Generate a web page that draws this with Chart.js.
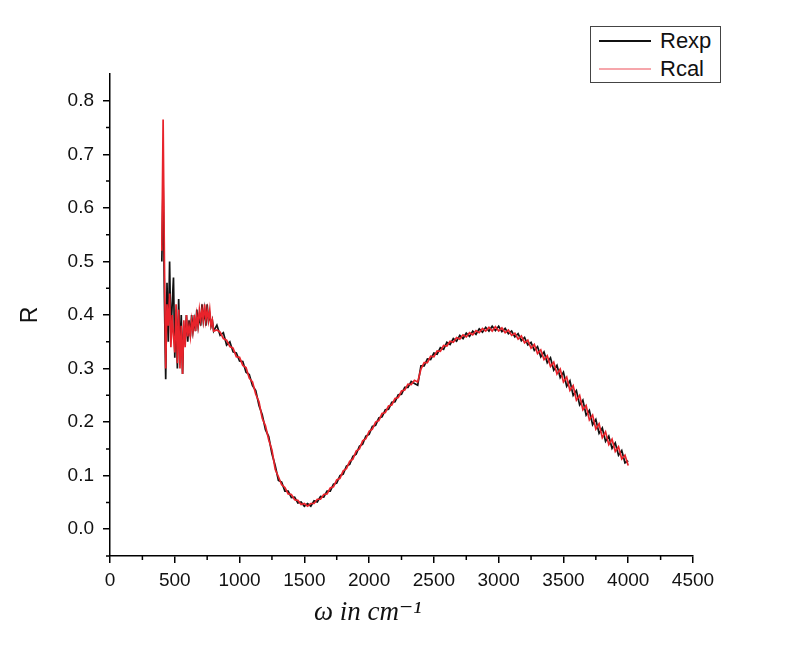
<!DOCTYPE html>
<html lang="en">
<head>
    <meta charset="UTF-8">
    <title>R vs wavenumber</title>
    <script src="https://cdn.jsdelivr.net/npm/chart.js"></script>
    <style>
        body { margin: 0; background: #fff; }
        #box { position: relative; width: 810px; height: 669px; }
        #legenda {
            position: absolute; left: 590px; top: 26px; width: 129px; height: 55px;
            border: 1px solid #444; background: #fff;
            font-family: 'Liberation Sans', Arial, sans-serif; font-size: 22px; color: #111;
        }
        .item { position: absolute; left: 8px; height: 26px; display: flex; align-items: center; }
        .item span.linha { display: inline-block; width: 52px; height: 2px; margin-right: 9px; }
    </style>
</head>
<body>
<div id="box">
    <canvas id="grafico" width="810" height="669"></canvas>
    <div id="legenda">
        <div class="item" style="top: 1px;"><span class="linha" style="background:#111;"></span>Rexp</div>
        <div class="item" style="top: 29px;"><span class="linha" style="background:#f6a6ab;"></span>Rcal</div>
    </div>
</div>
<script>
    // wavenumber (cm-1): 400-800 every 10, then 825-4000 every 25
    var omega = [
        400, 410, 420, 430, 440, 450, 460, 470, 480, 490, 500, 510, 520, 530, 540, 550, 560, 570, 580, 590,
        600, 610, 620, 630, 640, 650, 660, 670, 680, 690, 700, 710, 720, 730, 740, 750, 760, 770, 780, 790, 800,
        825, 850, 875, 900, 925, 950, 975, 1000, 1025, 1050, 1075, 1100, 1125, 1150, 1175, 1200,
        1225, 1250, 1275, 1300, 1325, 1350, 1375, 1400, 1425, 1450, 1475, 1500, 1525, 1550, 1575, 1600,
        1625, 1650, 1675, 1700, 1725, 1750, 1775, 1800, 1825, 1850, 1875, 1900, 1925, 1950, 1975, 2000,
        2025, 2050, 2075, 2100, 2125, 2150, 2175, 2200, 2225, 2250, 2275, 2300, 2325, 2350, 2375, 2400,
        2425, 2450, 2475, 2500, 2525, 2550, 2575, 2600, 2625, 2650, 2675, 2700, 2725, 2750, 2775, 2800,
        2825, 2850, 2875, 2900, 2925, 2950, 2975, 3000, 3025, 3050, 3075, 3100, 3125, 3150, 3175, 3200,
        3225, 3250, 3275, 3300, 3325, 3350, 3375, 3400, 3425, 3450, 3475, 3500, 3525, 3550, 3575, 3600,
        3625, 3650, 3675, 3700, 3725, 3750, 3775, 3800, 3825, 3850, 3875, 3900, 3925, 3950, 3975, 4000
    ];

    var rExp = [
        0.50, 0.65, 0.43, 0.28, 0.46, 0.35, 0.50, 0.36, 0.42, 0.47, 0.32, 0.41, 0.30, 0.43, 0.33, 0.40, 0.29, 0.38, 0.35, 0.40,
        0.35, 0.39, 0.36, 0.40, 0.37, 0.39, 0.37, 0.41, 0.38, 0.40, 0.38, 0.42, 0.39, 0.41, 0.38, 0.42, 0.39, 0.40, 0.38, 0.39, 0.37,
        0.381, 0.362, 0.367, 0.344, 0.350, 0.331, 0.329, 0.314, 0.313, 0.293, 0.289, 0.268, 0.259, 0.231, 0.214, 0.186,
        0.173, 0.141, 0.119, 0.091, 0.088, 0.071, 0.071, 0.059, 0.060, 0.049, 0.051, 0.043, 0.048, 0.043, 0.053, 0.051,
        0.061, 0.060, 0.071, 0.071, 0.084, 0.086, 0.100, 0.103, 0.118, 0.121, 0.136, 0.140, 0.155, 0.159, 0.174, 0.177,
        0.192, 0.194, 0.208, 0.210, 0.223, 0.224, 0.237, 0.238, 0.251, 0.252, 0.265, 0.265, 0.276, 0.272, 0.269, 0.305,
        0.305, 0.318, 0.317, 0.329, 0.327, 0.339, 0.336, 0.349, 0.345, 0.356, 0.351, 0.362, 0.356, 0.366, 0.360, 0.370,
        0.364, 0.374, 0.368, 0.377, 0.370, 0.379, 0.371, 0.379, 0.369, 0.375, 0.365, 0.370, 0.359, 0.365, 0.352, 0.358,
        0.344, 0.349, 0.334, 0.341, 0.322, 0.331, 0.311, 0.320, 0.297, 0.306, 0.283, 0.293, 0.267, 0.277, 0.250, 0.259,
        0.232, 0.241, 0.213, 0.222, 0.195, 0.205, 0.179, 0.189, 0.164, 0.174, 0.151, 0.161, 0.138, 0.147, 0.124, 0.128
    ];

    var rCal = [
        0.52, 0.765, 0.50, 0.30, 0.42, 0.38, 0.44, 0.34, 0.40, 0.36, 0.33, 0.42, 0.31, 0.41, 0.30, 0.38, 0.29, 0.39, 0.34, 0.40,
        0.36, 0.38, 0.36, 0.39, 0.37, 0.40, 0.37, 0.40, 0.38, 0.41, 0.39, 0.41, 0.39, 0.42, 0.39, 0.41, 0.39, 0.41, 0.38, 0.39, 0.37,
        0.372, 0.368, 0.356, 0.353, 0.341, 0.338, 0.322, 0.321, 0.306, 0.302, 0.282, 0.275, 0.252, 0.238, 0.207, 0.193,
        0.167, 0.148, 0.112, 0.098, 0.083, 0.078, 0.066, 0.065, 0.055, 0.054, 0.046, 0.048, 0.043, 0.048, 0.048, 0.056,
        0.056, 0.065, 0.066, 0.077, 0.079, 0.092, 0.095, 0.109, 0.113, 0.127, 0.131, 0.146, 0.150, 0.165, 0.169, 0.183,
        0.187, 0.200, 0.203, 0.216, 0.218, 0.230, 0.232, 0.244, 0.246, 0.258, 0.260, 0.271, 0.270, 0.278, 0.275, 0.299,
        0.311, 0.311, 0.323, 0.322, 0.333, 0.332, 0.343, 0.342, 0.351, 0.349, 0.358, 0.355, 0.363, 0.359, 0.367, 0.363,
        0.371, 0.367, 0.375, 0.370, 0.377, 0.370, 0.378, 0.370, 0.376, 0.367, 0.372, 0.362, 0.366, 0.355, 0.361, 0.348,
        0.353, 0.338, 0.345, 0.328, 0.335, 0.317, 0.324, 0.304, 0.312, 0.290, 0.299, 0.275, 0.284, 0.259, 0.268, 0.241,
        0.250, 0.223, 0.231, 0.204, 0.213, 0.187, 0.197, 0.171, 0.182, 0.158, 0.168, 0.145, 0.154, 0.131, 0.138, 0.119
    ];

    var xTicks = [0, 500, 1000, 1500, 2000, 2500, 3000, 3500, 4000, 4500];
    var yTicks = [0.0, 0.1, 0.2, 0.3, 0.4, 0.5, 0.6, 0.7, 0.8];
    var xMinor = [250, 750, 1250, 1750, 2250, 2750, 3250, 3750, 4250];
    var yMinor = [-0.05, 0.05, 0.15, 0.25, 0.35, 0.45, 0.55, 0.65, 0.75];

    function pontos(ys) {
        return omega.map((x, i) => ({ x: x, y: ys[i] }));
    }

    var fonteTick = { family: "'Liberation Sans', Arial, sans-serif", size: 19 };

    // small ticks between the labelled ones
    var tracinhos = {
        id: 'tracinhos',
        afterDraw(chart) {
            const ctx = chart.ctx;
            const sx = chart.scales.x, sy = chart.scales.y;
            ctx.save();
            ctx.strokeStyle = '#000';
            ctx.lineWidth = 1.5;
            ctx.beginPath();
            xMinor.forEach(v => {
                const p = sx.getPixelForValue(v);
                ctx.moveTo(p, sy.bottom);
                ctx.lineTo(p, sy.bottom + 4);
            });
            yMinor.forEach(v => {
                const p = sy.getPixelForValue(v);
                ctx.moveTo(sx.left, p);
                ctx.lineTo(sx.left - 4, p);
            });
            ctx.stroke();
            ctx.restore();
        }
    };

    var grafico = new Chart(document.getElementById('grafico').getContext('2d'), {
        type: 'line',
        data: {
            datasets: [{
                label: 'Rcal',
                data: pontos(rCal),
                borderColor: '#e8232b',
                borderWidth: 1.7,
                pointRadius: 0,
                tension: 0
            }, {
                label: 'Rexp',
                data: pontos(rExp),
                borderColor: '#111111',
                borderWidth: 1.7,
                pointRadius: 0,
                tension: 0
            }]
        },
        options: {
            responsive: false,
            animation: false,
            layout: { padding: { top: 74, right: 117, left: 0, bottom: 0 } },
            plugins: {
                legend: { display: false },
                tooltip: { enabled: false }
            },
            scales: {
                x: {
                    type: 'linear',
                    min: 0,
                    max: 4500,
                    afterBuildTicks: (s) => { s.ticks = xTicks.map(v => ({ value: v })); },
                    afterFit: (s) => { s.height = 113; },
                    border: { display: true, color: '#000', width: 1.5 },
                    grid: { drawOnChartArea: false, drawTicks: true, tickLength: 7, color: '#000', lineWidth: 1.5 },
                    ticks: {
                        color: '#111', font: fonteTick, padding: 6, maxRotation: 0, autoSkip: false,
                        callback: (v) => String(v)
                    },
                    title: {
                        display: true,
                        text: 'ω in cm⁻¹\u00a0\u00a0\u00a0\u00a0\u00a0\u00a0\u00a0\u00a0\u00a0\u00a0',
                        color: '#111',
                        font: { family: "'Liberation Serif', 'DejaVu Serif', serif", size: 27, style: 'italic' },
                        padding: { top: 0, bottom: 40 }
                    }
                },
                y: {
                    type: 'linear',
                    min: -0.05,
                    max: 0.85,
                    afterBuildTicks: (s) => { s.ticks = yTicks.map(v => ({ value: v })); },
                    afterFit: (s) => { s.width = 110; },
                    border: { display: true, color: '#000', width: 1.5 },
                    grid: { drawOnChartArea: false, drawTicks: true, tickLength: 7, color: '#000', lineWidth: 1.5 },
                    ticks: {
                        color: '#111', font: fonteTick, padding: 9, autoSkip: false,
                        callback: (v) => v.toFixed(1)
                    },
                    title: {
                        display: true,
                        text: 'R',
                        color: '#111',
                        font: { family: "'Liberation Sans', Arial, sans-serif", size: 23 },
                        padding: { top: 17, bottom: 0 }
                    }
                }
            }
        },
        plugins: [tracinhos]
    });
</script>
</body>
</html>
